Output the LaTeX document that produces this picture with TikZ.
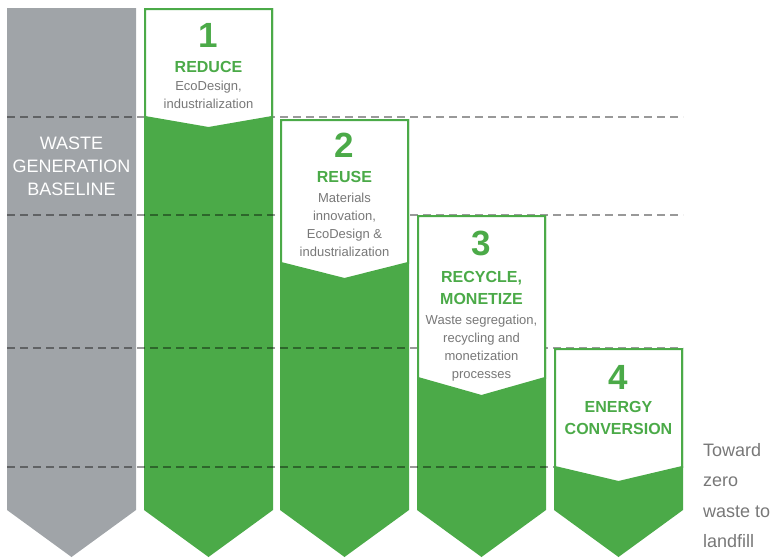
\documentclass[tikz,border=0pt]{standalone}
\usepackage{fontspec}
\setmainfont{Liberation Sans}
\definecolor{wastegreen}{RGB}{75,170,72}
\definecolor{basegray}{RGB}{160,164,168}
\definecolor{notegray}{RGB}{120,120,120}
\tikzset{
  level/.style={draw=black, opacity=0.4, line width=2.5pt, dash pattern=on 8pt off 5pt},
  stepbox/.style={draw=wastegreen, fill=white, line width=2pt},
  stepnum/.style={text=wastegreen, font=\fontsize{35}{35}\selectfont\bfseries, inner sep=0pt},
  steptitle/.style={text=wastegreen, font=\fontsize{16}{22}\selectfont\bfseries, align=center, inner sep=0pt},
  stepdesc/.style={text=notegray, font=\fontsize{13}{18}\selectfont, align=center, inner sep=0pt}
}
\begin{document}
\begin{tikzpicture}[x=1pt, y=-1pt]
  \useasboundingbox (0,0) rectangle (773,557);

  % Baseline column
  \fill[basegray] (7,8) -- (136,8) -- (136,510) -- (71.5,557) -- (7,510) -- cycle;

  % Step columns
  \foreach \l/\t in {144/8, 280/119, 417/215, 554/348} {
    \fill[wastegreen] (\l,\t) -- (\l+129,\t) -- (\l+129,510) -- (\l+64.5,557) -- (\l,510) -- cycle;
  }

  % Levels
  \foreach \y in {117, 215, 348, 467} {
    \draw[level] (7,\y) -- (683,\y);
  }

  % Label boxes
  \foreach \l/\t/\s/\p in {144/8/117/128, 280/119/263/279, 417/215/378/396, 554/348/467/482} {
    \draw[stepbox] (\l+1,\t+1) -- (\l+128,\t+1) -- (\l+128,\s) -- (\l+64.5,\p) -- (\l+1,\s) -- cycle;
  }

  % Baseline text
  \node[text=white, font=\fontsize{18}{23}\selectfont, align=center, inner sep=0pt] (base) at (71.5,166) {WASTE\\GENERATION\\BASELINE};

  % Step 1
  \node[stepnum] (num1) at (208.5,35) {1};
  \node[steptitle] (title1) at (208.5,67) {REDUCE};
  \node[stepdesc] (desc1) at (208.5,95) {EcoDesign,\\industrialization};

  % Step 2
  \node[stepnum] (num2) at (344.5,145) {2};
  \node[steptitle] (title2) at (344.5,177) {REUSE};
  \node[stepdesc] (desc2) at (344.5,225) {Materials\\innovation,\\EcoDesign \&\\industrialization};

  % Step 3
  \node[stepnum] (num3) at (481.5,243) {3};
  \node[steptitle] (title3) at (481.5,287.5) {RECYCLE,\\MONETIZE};
  \node[stepdesc] (desc3) at (481.5,348) {Waste segregation,\\recycling and\\monetization\\processes};

  % Step 4
  \node[stepnum] (num4) at (618.5,377) {4};
  \node[steptitle] (title4) at (618.5,417.5) {ENERGY\\CONVERSION};

  % Goal
  \node[text=notegray, font=\fontsize{18}{30.3}\selectfont, align=left, anchor=west, inner sep=0pt] (goal) at (703,495.5) {Toward\\zero\\waste to\\landfill};
\end{tikzpicture}
\end{document}
